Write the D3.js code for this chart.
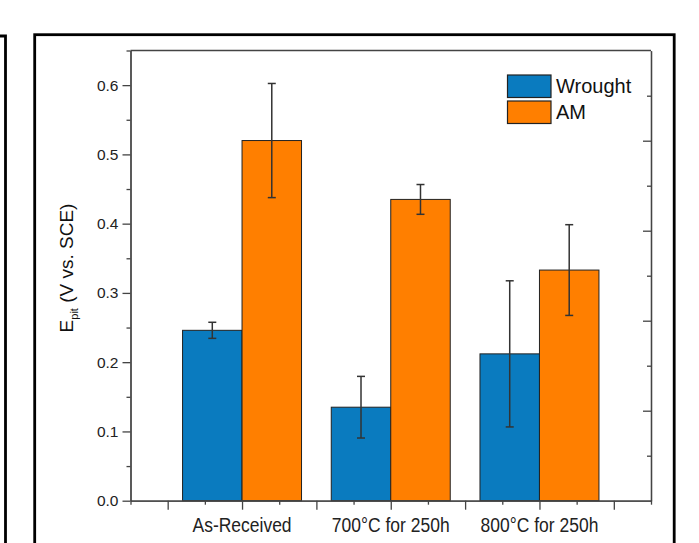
<!DOCTYPE html>
<html><head><meta charset="utf-8">
<script src="https://cdn.jsdelivr.net/npm/d3@7"></script>
<style>
html,body{margin:0;padding:0;background:#fff;}
svg{display:block;font-family:"Liberation Sans",Arial,sans-serif;}
</style></head>
<body>
<script>
const categories = ["As-Received", "700°C for 250h", "800°C for 250h"];
const seriesNames = ["Wrought", "AM"];
const wrought = [0.246, 0.135, 0.212];
const wroughtErr = [0.0116, 0.0445, 0.1055];
const am = [0.520, 0.435, 0.333];
const amErr = [0.0824, 0.0215, 0.0655];
const yTickValues = [0.0, 0.1, 0.2, 0.3, 0.4, 0.5, 0.6];
const yTickLabels = ["0.0", "0.1", "0.2", "0.3", "0.4", "0.5", "0.6"];

const W = 699, H = 543;
const colors = ["#0a7bbf", "#ff7f00"];
const svg = d3.select("body").append("svg").attr("width", W).attr("height", H);

// outer frames
svg.append("path").attr("d", "M0,36 H5.5 V560").attr("fill", "none").attr("stroke", "#000").attr("stroke-width", 2.8);
svg.append("rect").attr("x", 34.7).attr("y", 34.7).attr("width", 639.5).attr("height", 540)
  .attr("fill", "none").attr("stroke", "#000").attr("stroke-width", 2.8);

const L = 130.5, R = 651, T = 50.5, B = 500.7;
const x = d3.scaleLinear().domain([0.25, 3.75]).range([L, R]);
const y = d3.scaleLinear().domain([0, 0.65]).range([B, T]);
const yR = d3.scaleLinear().domain([0, 1]).range([B, B - 450]);
const barW = 0.4;

const series = [{v: wrought, e: wroughtErr}, {v: am, e: amErr}];
const gBars = svg.append("g");
series.forEach((s, si) => {
  categories.forEach((c, i) => {
    const cx = i + 1;
    const x0 = si === 0 ? cx - barW : cx;
    gBars.append("rect")
      .attr("x", x(x0)).attr("y", y(s.v[i]))
      .attr("width", x(x0 + barW) - x(x0)).attr("height", y(0) - y(s.v[i]))
      .attr("fill", colors[si]).attr("stroke", "#222").attr("stroke-width", 1);
  });
});
// error bars
series.forEach((s, si) => {
  categories.forEach((c, i) => {
    const cxv = (i + 1) + (si === 0 ? -barW / 2 : barW / 2);
    const px = x(cxv);
    const top = y(s.v[i] + s.e[i]), bot = y(s.v[i] - s.e[i]);
    const g = svg.append("g").attr("stroke", "#333").attr("stroke-width", 1.5);
    g.append("line").attr("x1", px).attr("x2", px).attr("y1", top).attr("y2", bot);
    g.append("line").attr("x1", px - 4).attr("x2", px + 4).attr("y1", top).attr("y2", top);
    g.append("line").attr("x1", px - 4).attr("x2", px + 4).attr("y1", bot).attr("y2", bot);
  });
});

const axisColor = "#444";
function styleAxis(g) {
  g.selectAll("path,line").attr("stroke", axisColor).attr("stroke-width", 1.3);
  g.selectAll("text").attr("fill", "#222");
}
// top border
svg.append("line").attr("x1", L).attr("x2", R).attr("y1", T).attr("y2", T).attr("stroke", axisColor).attr("stroke-width", 1.3);

// left axis
const yMinor = d3.range(0.05, 0.66, 0.1);
svg.append("g").attr("transform", `translate(${L},0)`)
  .call(d3.axisLeft(y).tickValues(yMinor).tickSize(4).tickSizeOuter(0).tickFormat(""))
  .call(styleAxis);
svg.append("g").attr("transform", `translate(${L},0)`)
  .call(d3.axisLeft(y).tickValues(yTickValues).tickSize(8).tickSizeOuter(0).tickPadding(4)
    .tickFormat((d, i) => yTickLabels[i]))
  .call(styleAxis)
  .call(g => g.selectAll("text").attr("font-size", 15.5).attr("font-family", "Liberation Sans, Arial, sans-serif"));

// right axis (ticks inward)
svg.append("g").attr("transform", `translate(${R},0)`)
  .call(d3.axisLeft(yR).tickValues([0.1, 0.3, 0.5, 0.7, 0.9]).tickSize(4).tickSizeOuter(0).tickFormat(""))
  .call(styleAxis);
svg.append("g").attr("transform", `translate(${R},0)`)
  .call(d3.axisLeft(yR).tickValues([0.2, 0.4, 0.6, 0.8]).tickSize(8).tickSizeOuter(0).tickFormat(""))
  .call(styleAxis);

// bottom axis
const xMajor = d3.range(0.5, 3.51, 0.5);
const xMinor = d3.range(0.25, 3.76, 0.5);
svg.append("g").attr("transform", `translate(0,${B})`)
  .call(d3.axisBottom(x).tickValues(xMinor).tickSize(4).tickSizeOuter(0).tickFormat(""))
  .call(styleAxis);
svg.append("g").attr("transform", `translate(0,${B})`)
  .call(d3.axisBottom(x).tickValues(xMajor).tickSize(9).tickSizeOuter(0).tickFormat(""))
  .call(styleAxis);

// category labels
categories.forEach((c, i) => {
  svg.append("text").attr("transform", `translate(${x(i + 1)},${532}) scale(1,1.12)`)
    .attr("text-anchor", "middle").attr("font-size", 17.5).attr("fill", "#222").text(c);
});

// y label
const yl = svg.append("text").attr("transform", `translate(73,${268}) rotate(-90)`)
  .attr("text-anchor", "middle").attr("font-size", 19).attr("fill", "#111");
yl.append("tspan").text("E");
yl.append("tspan").attr("font-size", 11).attr("dy", 5).text("pit");
yl.append("tspan").attr("dy", -5).text(" (V vs. SCE)");

// legend
const leg = svg.append("g");
seriesNames.forEach((n, i) => {
  const ly = 75 + i * 26;
  leg.append("rect").attr("x", 507.5).attr("y", ly).attr("width", 43.5).attr("height", 22.5)
    .attr("fill", colors[i]).attr("stroke", "#222").attr("stroke-width", 1.2);
  leg.append("text").attr("x", 556).attr("y", ly + 18.3).attr("font-size", 20).attr("fill", "#111").text(n);
});
</script>
</body></html>
